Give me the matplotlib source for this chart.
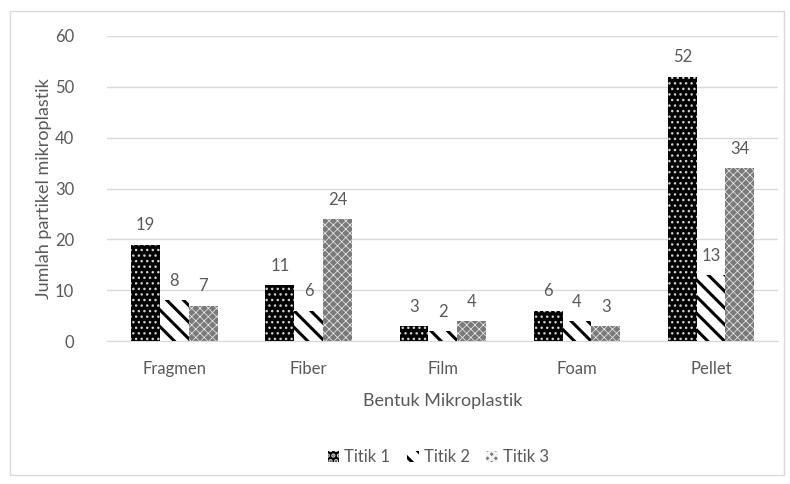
import numpy as np
import matplotlib.pyplot as plt
from matplotlib.patches import Rectangle

categories = ["Fragmen", "Fiber", "Film", "Foam", "Pellet"]
series_names = ["Titik 1", "Titik 2", "Titik 3"]
titik1 = [19, 11, 3, 6, 52]
titik2 = [8, 6, 2, 4, 13]
titik3 = [7, 24, 4, 3, 34]

plt.rcParams['font.family'] = ['Lato', 'DejaVu Sans']
plt.rcParams['hatch.linewidth'] = 2.2
txt = '#595959'

fig = plt.figure(figsize=(7.9, 4.84), dpi=100)
ax = fig.add_axes([0.136, 0.295, 0.849, 0.631])

fig.patches.append(Rectangle((0.013, 0.018), 0.98, 0.96, transform=fig.transFigure,
                             fill=False, edgecolor='#d9d9d9', linewidth=1))

x = np.arange(len(categories))
w = 0.215
styles = [
    dict(facecolor='black', edgecolor='#d0d0d0', hatch='...'),
    dict(facecolor='white', edgecolor='black', hatch='\\\\'),
    dict(facecolor='#7a7a7a', edgecolor='#f2f2f2', hatch='xxxx'),
]
hatch_lw = [1.0, 2.2, 0.5]
data = [titik1, titik2, titik3]
for i, (vals, name, st) in enumerate(zip(data, series_names, styles)):
    bars = ax.bar(x + (i - 1) * w, vals, w, label=name, linewidth=0, **st)
    for b in bars:
        try:
            b.set_hatch_linewidth(hatch_lw[i])
        except AttributeError:
            pass
    for b, v in zip(bars, vals):
        ax.text(b.get_x() + b.get_width() / 2, v + 2.2, str(v), ha='center',
                va='bottom', fontsize=12, color=txt)

ax.set_ylim(0, 60)
ax.set_yticks(range(0, 61, 10))
ax.set_xlim(-0.5, 4.5)
ax.set_xticks(x)
ax.set_xticklabels(categories)
ax.grid(axis='y', color='#d9d9d9', linewidth=1)
ax.set_axisbelow(True)
for s in ['top', 'right', 'left']:
    ax.spines[s].set_visible(False)
ax.spines['bottom'].set_color('#d9d9d9')
ax.tick_params(axis='both', length=0, labelsize=12, colors=txt, pad=14)
ax.tick_params(axis='y', pad=24)
ax.set_xlabel("Bentuk Mikroplastik", fontsize=13, color=txt, labelpad=12)
ax.set_ylabel("Jumlah partikel mikroplastik", fontsize=13, color=txt, labelpad=2)

leg = fig.legend(loc='center', bbox_to_anchor=(0.555, 0.055), ncol=3, frameon=False,
                 fontsize=12, handlelength=0.7, handleheight=0.7, columnspacing=1.0,
                 handletextpad=0.3)
for t in leg.get_texts():
    t.set_color(txt)

fig.savefig("out.png", dpi=100)
